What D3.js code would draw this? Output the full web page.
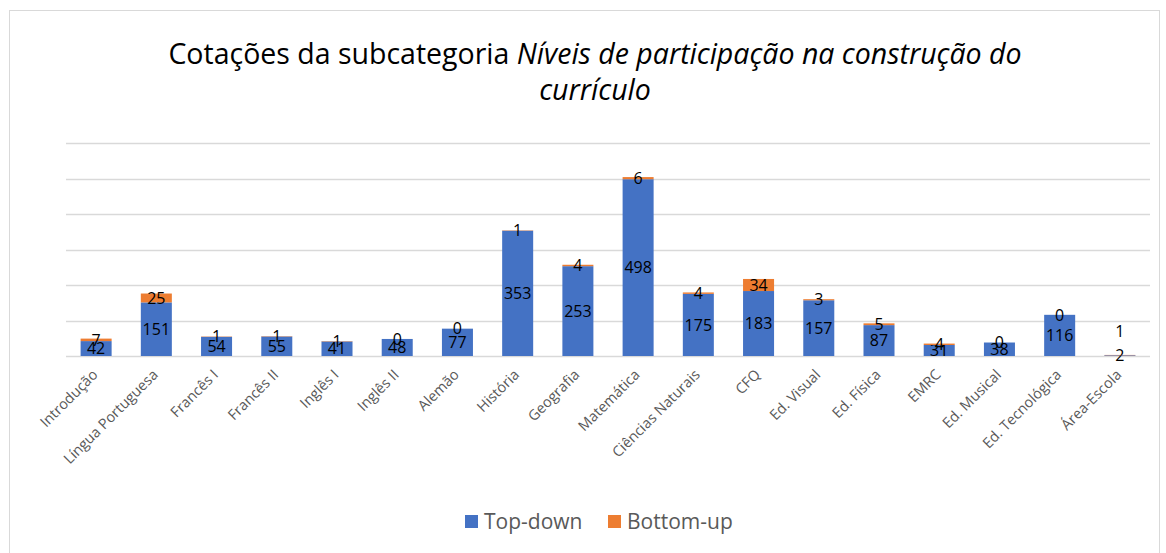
<!DOCTYPE html>
<html lang="pt">
<head>
<meta charset="utf-8">
<title>Cotações da subcategoria</title>
<script src="https://cdn.jsdelivr.net/npm/d3@7"></script>
<style>
  body { margin: 0; background: #fff; }
  svg { display: block; font-family: "Open Sans", Lato, sans-serif; }
</style>
</head>
<body>
<script>
var categories = ['Introdução', 'Língua Portuguesa', 'Francês I', 'Francês II', 'Inglês I', 'Inglês II',
  'Alemão', 'História', 'Geografia', 'Matemática', 'Ciências Naturais', 'CFQ', 'Ed. Visual',
  'Ed. Física', 'EMRC', 'Ed. Musical', 'Ed. Tecnológica', 'Área-Escola'];
var topDown  = [42, 151, 54, 55, 41, 48, 77, 353, 253, 498, 175, 183, 157, 87, 31, 38, 116, 2];
var bottomUp = [7, 25, 1, 1, 1, 0, 0, 1, 4, 6, 4, 34, 3, 5, 4, 0, 0, 1];
var seriesNames = ['Top-down', 'Bottom-up'];
var colors = ['#4472C4', '#ED7D31'];
var yTicks = [0, 100, 200, 300, 400, 500, 600];

var W = 1166, H = 553;
var plot = {left: 66, right: 1150, top: 143, bottom: 356};

var svg = d3.select('body').append('svg')
    .attr('width', W)
    .attr('height', H);

svg.append('rect')
    .attr('x', 9.5).attr('y', 10.5)
    .attr('width', 1150).attr('height', 560)
    .attr('fill', '#fff')
    .attr('stroke', '#d9d9d9');

// title
var title = svg.append('text')
    .attr('text-anchor', 'middle')
    .attr('font-size', 28.5)
    .attr('fill', '#000');
var l1 = title.append('tspan').attr('x', 595).attr('y', 64);
l1.append('tspan').text('Cotações da subcategoria ');
l1.append('tspan').attr('font-style', 'italic').text('Níveis de participação na construção do');
title.append('tspan').attr('x', 595).attr('y', 100)
    .attr('font-style', 'italic').text('currículo');

var x = d3.scaleBand()
    .domain(categories)
    .range([plot.left, plot.right])
    .paddingInner(0.485)
    .paddingOuter(0.2425);

var y = d3.scaleLinear()
    .domain([0, 600])
    .range([plot.bottom, plot.top]);

// gridlines
svg.append('g')
    .selectAll('line')
    .data(yTicks)
    .join('line')
    .attr('x1', plot.left).attr('x2', plot.right)
    .attr('y1', function(d) { return Math.round(y(d)) + 0.5; })
    .attr('y2', function(d) { return Math.round(y(d)) + 0.5; })
    .attr('stroke', '#d9d9d9')
    .attr('stroke-width', 1.5);

var rows = categories.map(function(c, i) {
    return {cat: c, 'Top-down': topDown[i], 'Bottom-up': bottomUp[i]};
});
var stacked = d3.stack().keys(seriesNames)(rows);

var layers = svg.append('g')
    .selectAll('g')
    .data(stacked)
    .join('g')
    .attr('fill', function(d, i) { return colors[i]; });

layers.selectAll('rect')
    .data(function(d) { return d; })
    .join('rect')
    .attr('x', function(d) { return x(d.data.cat); })
    .attr('width', x.bandwidth())
    .attr('y', function(d) { return y(d[1]); })
    .attr('height', function(d) { return y(d[0]) - y(d[1]); });

// data labels
layers.each(function(layer, li) {
    d3.select(this).selectAll('text')
        .data(layer)
        .join('text')
        .attr('x', function(d) { return x(d.data.cat) + x.bandwidth() / 2; })
        .attr('y', function(d, i) {
            var mid = (y(d[0]) + y(d[1])) / 2;
            // the Área-Escola label was lifted clear of the bar in the original
            if (li === 1 && i === categories.length - 1) mid -= 24;
            return mid;
        })
        .attr('dy', '0.36em')
        .attr('text-anchor', 'middle')
        .attr('font-size', 16)
        .attr('fill', '#000')
        .text(function(d) { return d.data[layer.key]; });
});

// x axis labels
svg.append('g')
    .selectAll('text')
    .data(categories)
    .join('text')
    .attr('transform', function(d) {
        return 'translate(' + (x(d) + x.bandwidth() / 2 - 1) + ',' + (plot.bottom + 16) + ') rotate(-45)';
    })
    .attr('text-anchor', 'end')
    .attr('dy', '0.35em')
    .attr('font-size', 14.5)
    .attr('fill', '#595959')
    .text(function(d) { return d; });

// legend
var legend = svg.append('g').attr('transform', 'translate(465,515)');
var items = [{name: 'Top-down', x: 0}, {name: 'Bottom-up', x: 143}];
items.forEach(function(it, i) {
    legend.append('rect')
        .attr('x', it.x).attr('y', 0)
        .attr('width', 13).attr('height', 13)
        .attr('fill', colors[i]);
    legend.append('text')
        .attr('x', it.x + 19).attr('y', 6.5)
        .attr('dy', '0.36em')
        .attr('font-size', 21)
        .attr('fill', '#595959')
        .text(it.name);
});
</script>
</body>
</html>
